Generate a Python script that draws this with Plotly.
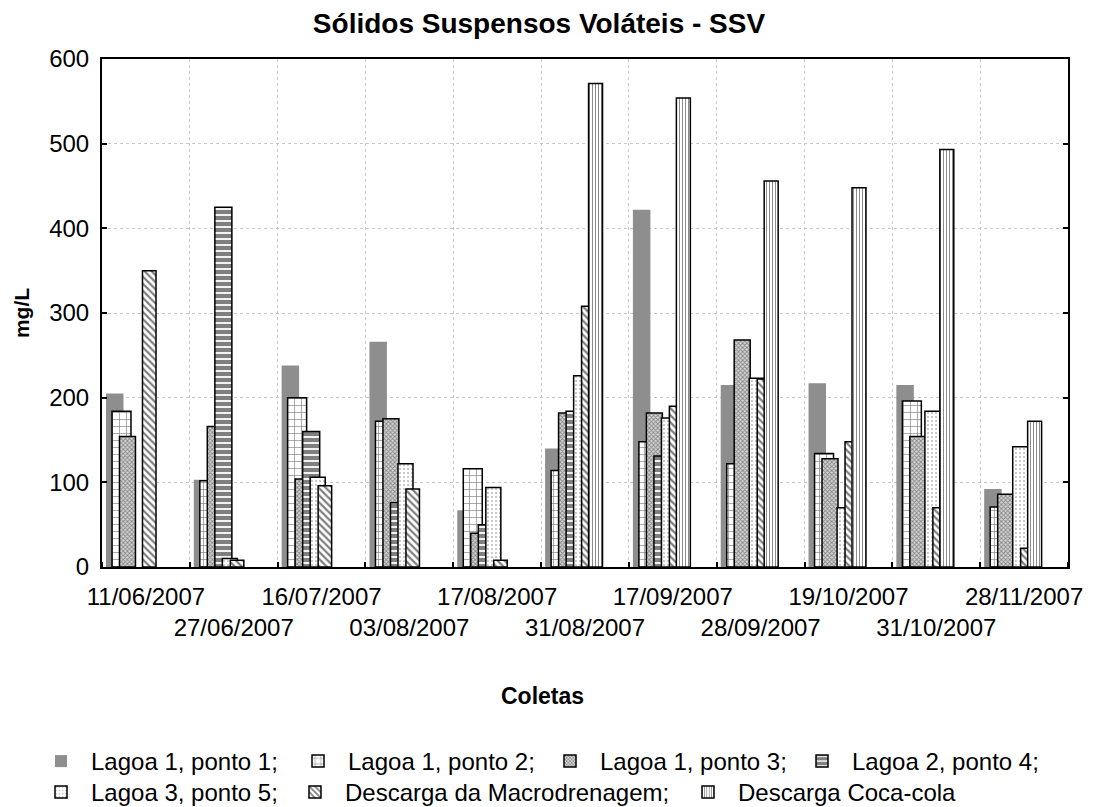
import plotly.graph_objects as go

# ---- data ----
categories = ["11/06/2007", "27/06/2007", "16/07/2007", "03/08/2007", "17/08/2007",
              "31/08/2007", "17/09/2007", "28/09/2007", "19/10/2007", "31/10/2007",
              "28/11/2007"]
series_names = ["Lagoa 1, ponto 1;", "Lagoa 1, ponto 2;", "Lagoa 1, ponto 3;",
                "Lagoa 2, ponto 4;", "Lagoa 3, ponto 5;", "Descarga da Macrodrenagem;",
                "Descarga Coca-cola"]
lagoa1_p1 = [205, 103, 238, 266, 67, 140, 422, 215, 217, 215, 92]
lagoa1_p2 = [184, 102, 200, 172, 116, 114, 148, 122, 134, 196, 71]
lagoa1_p3 = [154, 166, 104, 175, 40, 182, 182, 268, 128, 154, 86]
lagoa2_p4 = [None, 425, 160, 76, 50, 184, 131, None, None, None, None]
lagoa3_p5 = [None, 10, 106, 122, 94, 226, 176, 223, 70, 184, 142]
macrodrenagem = [350, 8, 96, 92, 8, 308, 190, 222, 148, 70, 22]
coca_cola = [None, None, None, None, None, 571, 554, 456, 448, 493, 172]
y_ticks = [0, 100, 200, 300, 400, 500, 600]

all_series = [lagoa1_p1, lagoa1_p2, lagoa1_p3, lagoa2_p4, lagoa3_p5, macrodrenagem, coca_cola]

# ---- styles (positions within a category, widths, patterns) ----
offsets = [-0.355, -0.278, -0.210, -0.118, -0.044, 0.038, 0.120]
widths = [0.199, 0.216, 0.182, 0.194, 0.171, 0.154, 0.159]
patterns = [
    dict(shape=""),
    dict(shape="+", fgcolor="black", bgcolor="white", size=7, solidity=0.18),
    dict(shape="x", fgcolor="#333333", bgcolor="#d8d8d8", size=3, solidity=0.5),
    dict(shape="-", fgcolor="black", bgcolor="white", size=6, solidity=0.7),
    dict(shape=".", fgcolor="black", bgcolor="white", size=4, solidity=0.12),
    dict(shape="\\", fgcolor="black", bgcolor="white", size=5, solidity=0.45),
    dict(shape="|", fgcolor="black", bgcolor="white", size=3, solidity=0.3),
]
# one legend box per entry, laid out in two rows like the reference
legend_x_px = [23, 280, 532, 784, 23, 277, 670]
legend_top_px = [731, 731, 731, 731, 762, 762, 762]

FONT = "Arial, Liberation Sans, sans-serif"
# the page body adds an 8px offset; positions below are compensated for it
W, H = 1096, 807

fig = go.Figure()
n = len(categories)
legend_layouts = {}
for j, (name, vals) in enumerate(zip(series_names, all_series)):
    xs = [i + offsets[j] for i in range(n)]
    if j == 0:
        marker = dict(color="#8e8e8e", line=dict(width=0))
    else:
        marker = dict(color="white", pattern=patterns[j], line=dict(color="black", width=1.5))
    leg_id = "legend" if j == 0 else f"legend{j + 1}"
    fig.add_trace(go.Bar(x=xs, y=vals, width=widths[j], name=name, marker=marker,
                         legend=leg_id))
    legend_layouts[leg_id] = dict(
        orientation="h", xref="container", yref="container",
        x=legend_x_px[j] / W, y=1 - legend_top_px[j] / H,
        xanchor="left", yanchor="top", font=dict(size=24),
        itemwidth=50, bgcolor="rgba(0,0,0,0)")

ticktext = [c if i % 2 == 0 else "<br>" + c for i, c in enumerate(categories)]

fig.update_layout(
    width=W, height=H,
    paper_bgcolor="white", plot_bgcolor="white",
    barmode="overlay",
    font=dict(family=FONT, size=24, color="black"),
    margin=dict(l=94, r=36, t=51, b=248),
    title=dict(text="<b>Sólidos Suspensos Voláteis - SSV</b>", xref="container",
               x=531 / W, xanchor="center", yref="container",
               y=1 - 15 / H, yanchor="middle", font=dict(size=28)),
    showlegend=True,
    annotations=[dict(text="<b>Coletas</b>", xref="paper", yref="paper",
                      x=0.4565, y=-0.254, xanchor="center", yanchor="middle",
                      showarrow=False, font=dict(size=23))],
    **legend_layouts,
)

fig.update_xaxes(
    range=[-0.5, n - 0.5], automargin=False,
    tickmode="array", tickvals=list(range(n)), ticktext=ticktext, tickangle=0,
    ticks="", showgrid=False, ticklabelstandoff=7,
    showline=True, linecolor="black", linewidth=2, mirror=True,
    zeroline=False,
    tickfont=dict(size=24),
    minor=dict(tickmode="array", tickvals=[i + 0.5 for i in range(-1, n)],
               ticks="inside", ticklen=5, tickcolor="black", tickwidth=1.5,
               showgrid=True, gridcolor="#c8c8c8", gridwidth=1, griddash="3px,3px"),
)
fig.update_yaxes(
    range=[0, 600], automargin=False, tickmode="array", tickvals=y_ticks,
    ticks="inside", ticklen=5, tickwidth=1.5, tickcolor="black",
    showgrid=True, gridcolor="#c8c8c8", gridwidth=1, griddash="3px,3px",
    showline=True, linecolor="black", linewidth=2, mirror="ticks",
    zeroline=False, ticklabelstandoff=6,
    tickfont=dict(size=24),
    title=dict(text="<b>mg/L</b>", font=dict(size=21), standoff=14),
)

fig.write_html("out.html")
